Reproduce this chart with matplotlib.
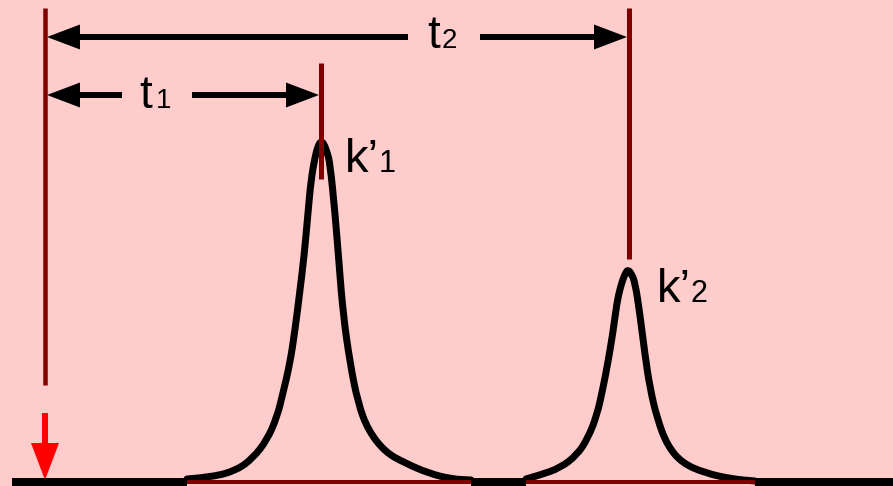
import matplotlib.pyplot as plt
from matplotlib.path import Path
from matplotlib.patches import PathPatch

# positions along the time axis
t0 = 45              # dead time (injection marker)
t_r = [321, 629]     # retention times of the two peaks

# detector trace of each peak: time and signal height above baseline
peak1_x = [187, 213, 237, 253, 267, 277, 283, 290, 295, 300, 304, 308, 311, 315,
           318, 321, 324, 327, 330, 335, 339, 343, 350, 358, 368, 385, 405, 428, 451, 471]
peak1_y = [2, 4, 11, 23, 41, 64, 88, 118, 151, 191, 224, 268, 301, 324,
           335, 340, 337, 329, 318, 268, 218, 168, 118, 78, 51, 29, 18, 8, 2, 1]

peak2_x = [526, 540, 560, 577, 588, 597, 603, 608, 613, 617, 620, 623, 626, 628,
           631, 635, 640, 645, 650, 657, 667, 682, 705, 732, 755]
peak2_y = [2, 6, 13, 26, 43, 66, 93, 119, 149, 179, 192, 202, 209, 211,
           208, 199, 166, 126, 93, 63, 36, 18, 8, 2, 0]

peaks = [(peak1_x, peak1_y), (peak2_x, peak2_y)]
time_labels = ["1", "2"]

bg = "#ffcccc"
darkred = "#800000"
px = 72 / 100  # one pixel in points


def trace_path(x, y):
    # quadratic bezier through the midpoints, using the samples as control points
    verts = [(x[0], y[0])]
    codes = [Path.MOVETO]
    for i in range(1, len(x) - 1):
        verts += [(x[i], y[i]), ((x[i] + x[i + 1]) / 2, (y[i] + y[i + 1]) / 2)]
        codes += [Path.CURVE3, Path.CURVE3]
    verts.append((x[-1], y[-1]))
    codes.append(Path.LINETO)
    return Path(verts, codes)


fig = plt.figure(figsize=(8.93, 4.86), dpi=100, facecolor=bg)
ax = fig.add_axes([0, 0, 1, 1])
ax.set_facecolor(bg)
ax.set_xlim(0, 893)
ax.set_ylim(-5, 481)
ax.axis("off")

# baseline: black outside the peaks, thin dark red under each peak
edges = [12]
for x, y in peaks:
    edges += [x[0], x[-1]]
edges.append(893)
for a, b in zip(edges[::2], edges[1::2]):
    ax.plot([a, b], [-3, -3], color="black", lw=12 * px, solid_capstyle="butt")
for x, y in peaks:
    ax.plot([x[0], x[-1]], [-1, -1], color=darkred, lw=4 * px, solid_capstyle="butt")

# peaks
for x, y in peaks:
    ax.add_patch(PathPatch(trace_path(x, y), fill=False, edgecolor="black",
                           lw=7 * px, joinstyle="round", capstyle="round"))

# marker lines for dead time and retention times
ax.plot([t0, t0], [96, 473], color=darkred, lw=4.5 * px, solid_capstyle="butt")
ax.plot([t_r[0], t_r[0]], [302, 418], color=darkred, lw=5 * px, solid_capstyle="butt")
ax.plot([t_r[1], t_r[1]], [222, 473], color=darkred, lw=5 * px, solid_capstyle="butt")

# injection arrow
ax.arrow(t0, 68, 0, -67, width=6, head_width=28, head_length=37,
         length_includes_head=True, color="red", lw=0)

# time span arrows with the label in a gap
spans = [(t_r[0], 386, 122, 192), (t_r[1], 444, 408, 480)]
arrow_kw = dict(width=6, head_width=25, head_length=33,
                length_includes_head=True, color="black", lw=0)
for (t, y, gap_l, gap_r), lab in zip(spans, time_labels):
    ax.arrow(gap_l, y, t0 + 2 - gap_l, 0, **arrow_kw)
    ax.arrow(gap_r, y, t - 2 - gap_r, 0, **arrow_kw)

font = "Liberation Sans"
ax.text(139, 373, "t", fontsize=33, family=font, va="baseline")
ax.text(156, 373, "1", fontsize=20, family=font, va="baseline")
ax.text(427, 433, "t", fontsize=33, family=font, va="baseline")
ax.text(442, 433, "2", fontsize=20, family=font, va="baseline")

ax.text(345, 309, "k\u2019", fontsize=34, family=font, va="baseline")
ax.text(379, 309, "1", fontsize=22, family=font, va="baseline")
ax.text(657, 179, "k\u2019", fontsize=34, family=font, va="baseline")
ax.text(691, 179, "2", fontsize=22, family=font, va="baseline")

fig.savefig("out.png", dpi=100, facecolor=bg)
